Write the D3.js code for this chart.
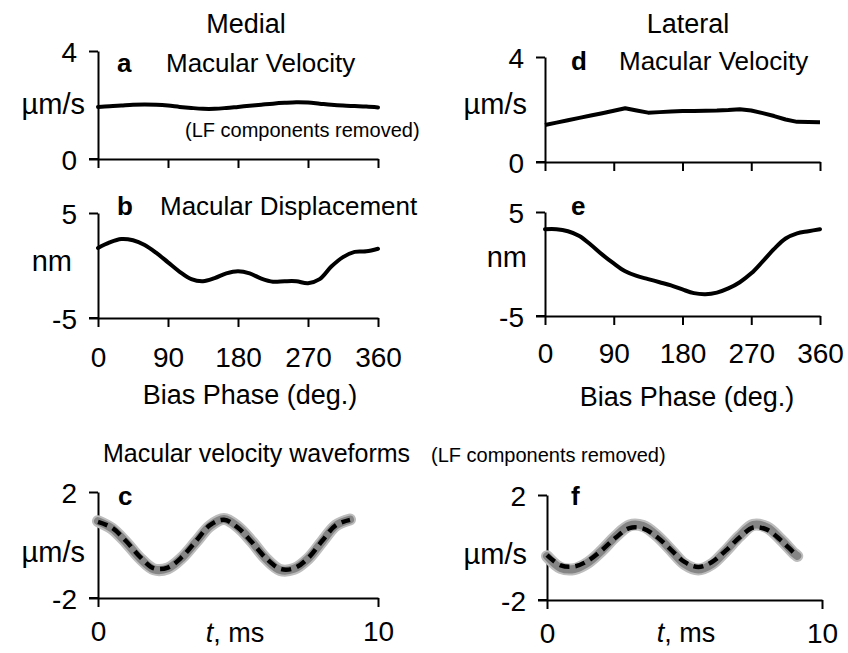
<!DOCTYPE html>
<html><head><meta charset="utf-8">
<script src="https://cdn.jsdelivr.net/npm/d3@7"></script>
<style>body{margin:0;background:#fff}svg{display:block;font-family:"Liberation Sans",Arial,sans-serif}</style>
</head><body><svg id="c" width="848" height="653"></svg>
<script>
// ---- data ----
const phase = [0,15,30,45,60,75,90,105,120,135,150,165,180,195,210,225,240,255,270,285,300,315,330,345,360];
const velMedial = [1.93,1.95,1.98,2.01,2.02,2.01,1.98,1.93,1.89,1.86,1.86,1.89,1.93,1.97,2.01,2.05,2.08,2.10,2.09,2.05,2.01,1.98,1.96,1.94,1.91];
const dispMedial = [1.67,2.2,2.52,2.4,1.95,1.2,0.3,-0.6,-1.3,-1.5,-1.2,-0.75,-0.55,-0.75,-1.25,-1.55,-1.5,-1.5,-1.68,-1.3,-0.1,0.8,1.3,1.35,1.6];
const velLateral = [1.41,1.50,1.59,1.68,1.77,1.86,1.95,2.05,1.96,1.88,1.90,1.92,1.94,1.94,1.95,1.96,1.98,2.01,1.96,1.86,1.75,1.62,1.53,1.52,1.51];
const dispLateral = [3.35,3.35,3.15,2.7,1.85,0.9,0.05,-0.7,-1.15,-1.45,-1.75,-2.05,-2.45,-2.8,-2.9,-2.75,-2.35,-1.75,-0.9,0.25,1.45,2.45,2.95,3.15,3.35];
const timeMedial = [0,0.5,1,1.5,2,2.5,3,3.5,4,4.5,5,5.5,6,6.5,7,7.5,8,8.5,9];
const waveMedialMean = [0.87,0.65,0.15,-0.45,-0.88,-0.85,-0.45,0.15,0.75,0.95,0.65,0.1,-0.5,-0.9,-0.88,-0.5,0.15,0.75,0.95];
const waveMedialTrace = [0.9,0.62,0.1,-0.5,-0.92,-0.88,-0.48,0.12,0.72,0.98,0.68,0.12,-0.52,-0.94,-0.9,-0.52,0.12,0.74,0.96];
const timeLateral = [0,0.5,1,1.5,2,2.5,3,3.5,4,4.5,5,5.5,6,6.5,7,7.5,8,8.5,9,9.1];
const waveLateralMean = [-0.29,-0.68,-0.72,-0.50,-0.10,0.38,0.74,0.72,0.40,-0.08,-0.55,-0.74,-0.55,-0.12,0.38,0.76,0.68,0.28,-0.22,-0.30];
const waveLateralTrace = [-0.33,-0.78,-0.82,-0.57,-0.11,0.43,0.84,0.82,0.45,-0.09,-0.63,-0.84,-0.63,-0.13,0.43,0.86,0.77,0.31,-0.24,-0.32];
const phaseTicks = [0,90,180,270,360];
const timeTicks = [0,10];
const titles = {left:"Medial", right:"Lateral"};

const svg = d3.select("#c");
const F = 26;

function panel(o){
  const x = d3.scaleLinear().domain(o.xd).range([o.x0,o.x1]);
  const y = d3.scaleLinear().domain(o.yd).range([o.yb,o.yt]);
  const g = svg.append("g");
  const ya = g.append("g").attr("transform",`translate(${o.x0},0)`)
    .call(d3.axisLeft(y).tickValues(o.yd).tickSize(9).tickSizeOuter(0).tickPadding(12).tickFormat(d=>d<0?"-"+Math.abs(d):d));
  const xa = g.append("g").attr("transform",`translate(0,${o.yb})`)
    .call(d3.axisBottom(x).tickValues(o.xt).tickSize(9).tickSizeOuter(0).tickPadding(o.pad||12).tickFormat(o.xlabels?d=>d:()=>""));
  [ya,xa].forEach(a=>{a.select(".domain").attr("stroke","#000").attr("stroke-width",2);
    a.selectAll(".tick line").attr("stroke","#000").attr("stroke-width",2);
    a.selectAll("text").attr("font-size",28).attr("fill","#000").attr("font-family","Liberation Sans, Arial, sans-serif");});
  ya.selectAll(".tick text").attr("dy","0.36em");
  g.append("line").attr("x1",o.x0-9).attr("x2",o.x0).attr("y1",o.yb).attr("y2",o.yb).attr("stroke","#000").attr("stroke-width",2);
  return {x,y,g};
}

function curve(p,xs,ys,style){
  const line = d3.line().x((d,i)=>p.x(xs[i])).y(d=>p.y(d)).curve(d3.curveCatmullRom.alpha(0.5));
  p.g.append("path").attr("d",line(ys)).attr("fill","none")
    .attr("stroke",style.color).attr("stroke-width",style.w)
    .attr("stroke-dasharray",style.dash||null).attr("stroke-linecap",style.cap||"round").attr("stroke-linejoin","round");
}

function txt(x,y,s,opt={}){
  return svg.append("text").attr("x",x).attr("y",y).attr("font-size",opt.size||F)
    .attr("font-weight",opt.bold?"bold":null).attr("text-anchor",opt.anchor||"start").attr("fill","#000").text(s);
}

function waves(p,ts,trace,mean){
  curve(p,ts,trace,{color:"#bdbdbd",w:12});
  curve(p,ts,trace,{color:"#858585",w:8});
  curve(p,ts,mean,{color:"#000",w:4.5,dash:"10 6",cap:"butt"});
}

// Panels
const pa = panel({x0:98,x1:378,yt:51,yb:159,xd:[0,360],yd:[0,4],xt:phaseTicks,xlabels:false});
curve(pa,phase,velMedial,{color:"#000",w:4});
const pb = panel({x0:98,x1:378,yt:213,yb:318,xd:[0,360],yd:[-5,5],xt:phaseTicks,xlabels:true,pad:20});
curve(pb,phase,dispMedial,{color:"#000",w:4});
const pc = panel({x0:98,x1:378,yt:492,yb:598,xd:[0,10],yd:[-2,2],xt:timeTicks,xlabels:true,pad:14});
waves(pc,timeMedial,waveMedialTrace,waveMedialMean);

const pd = panel({x0:545,x1:820,yt:57,yb:162,xd:[0,360],yd:[0,4],xt:phaseTicks,xlabels:false});
{ const line = d3.line().x((d,i)=>pd.x(phase[i])).y(d=>pd.y(d));
  pd.g.append("path").attr("d",line(velLateral)).attr("fill","none").attr("stroke","#000").attr("stroke-width",4).attr("stroke-linejoin","round"); }
const pe = panel({x0:545,x1:820,yt:212,yb:316,xd:[0,360],yd:[-5,5],xt:phaseTicks,xlabels:true,pad:18});
curve(pe,phase,dispLateral,{color:"#000",w:4});
const pf = panel({x0:547,x1:822,yt:495,yb:600,xd:[0,10],yd:[-2,2],xt:timeTicks,xlabels:true,pad:14});
waves(pf,timeLateral,waveLateralTrace,waveLateralMean);

// Texts
txt(246,33,titles.left,{size:27,anchor:"middle"});
txt(688,33,titles.right,{size:27,anchor:"middle"});
txt(117,72,"a",{bold:true});
txt(166,72,"Macular Velocity");
txt(85,114,"µm/s",{size:29,anchor:"end"});
txt(185,137,"(LF components removed)",{size:20});
txt(571,70,"d",{bold:true});
txt(619,70,"Macular Velocity");
txt(527,114,"µm/s",{size:29,anchor:"end"});

txt(117,215,"b",{bold:true});
txt(160,215,"Macular Displacement");
txt(72,271,"nm",{size:29,anchor:"end"});
txt(250,404,"Bias Phase (deg.)",{size:27,anchor:"middle"});
txt(571,215,"e",{bold:true});
txt(527,267,"nm",{size:29,anchor:"end"});
txt(687,406,"Bias Phase (deg.)",{size:27,anchor:"middle"});

txt(103,462,"Macular velocity waveforms",{size:25});
txt(431,462,"(LF components removed)",{size:20});
txt(118,505,"c",{bold:true});
txt(85,562,"µm/s",{size:29,anchor:"end"});
const t1 = txt(235,642,"",{size:27,anchor:"middle"});
t1.append("tspan").attr("font-style","italic").text("t");
t1.append("tspan").text(", ms");
txt(571,505,"f",{bold:true});
txt(527,564,"µm/s",{size:29,anchor:"end"});
const t2 = txt(686,642,"",{size:27,anchor:"middle"});
t2.append("tspan").attr("font-style","italic").text("t");
t2.append("tspan").text(", ms");
</script></body></html>
